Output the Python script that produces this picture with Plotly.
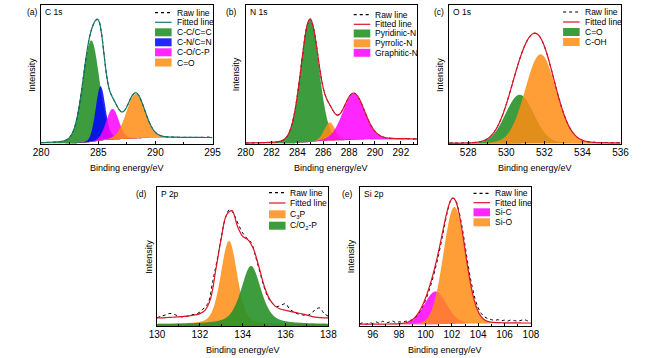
import numpy as np
import plotly.graph_objects as go

# ---------------- data ----------------
RAW_STEP = 0.25  # spacing of the sampled raw spectra (eV)

# (a) C 1s
A_range = [280, 295]
A_labels = ["C-C/C=C", "C-N/C=N", "C-O/C-P", "C=O"]
A_center = [284.38, 285.2, 286.25, 288.27]
A_height = [0.73, 0.39, 0.22, 0.32]
A_fwhm = [1.7, 1.0, 1.3, 1.9]
A_eta = [0.15, 0.1, 0.1, 0.1]
A_bg = [0.005, 0.045]
A_raw = [0.010, 0.011, 0.011, 0.012, 0.013, 0.014, 0.016, 0.018, 0.022, 0.031,
         0.048, 0.081, 0.140, 0.233, 0.361, 0.512, 0.658, 0.773, 0.845, 0.888,
         0.894, 0.815, 0.649, 0.484, 0.384, 0.335, 0.296, 0.257, 0.233, 0.237,
         0.268, 0.313, 0.352, 0.368, 0.355, 0.315, 0.260, 0.202, 0.150, 0.111,
         0.084, 0.068, 0.059, 0.054, 0.052, 0.050, 0.050, 0.049, 0.049, 0.048,
         0.048, 0.048, 0.048, 0.047, 0.048, 0.047, 0.049, 0.048, 0.050, 0.049, 0.052]

# (b) N 1s
B_range = [280, 293.25]
B_labels = ["Pyridinic-N", "Pyrrolic-N", "Graphitic-N"]
B_center = [284.97, 286.5, 288.35]
B_height = [0.88, 0.13, 0.33]
B_fwhm = [1.65, 1.0, 2.0]
B_eta = [0.1, 0.1, 0.1]
B_bg = [0.005, 0.035]
B_raw = [0.008, 0.008, 0.009, 0.009, 0.009, 0.010, 0.011, 0.011, 0.012, 0.014,
         0.017, 0.022, 0.035, 0.062, 0.116, 0.210, 0.350, 0.528, 0.712, 0.852,
         0.899, 0.835, 0.692, 0.530, 0.403, 0.328, 0.283, 0.241, 0.211, 0.213,
         0.246, 0.295, 0.339, 0.364, 0.361, 0.331, 0.282, 0.225, 0.170, 0.125,
         0.091, 0.069, 0.055, 0.047, 0.043, 0.041, 0.040, 0.039, 0.039, 0.038,
         0.038, 0.038, 0.037, 0.037]

# (c) O 1s
C_range = [527, 536]
C_labels = ["C=O", "C-OH"]
C_center = [530.7, 531.8]
C_height = [0.35, 0.64]
C_fwhm = [1.75, 1.9]
C_eta = [0.05, 0.05]
C_bg = [0.004, 0.006]
C_raw = [0.006, 0.008, 0.006, 0.009, 0.008, 0.011, 0.013, 0.021, 0.037, 0.066,
         0.116, 0.189, 0.286, 0.400, 0.519, 0.629, 0.717, 0.776, 0.797, 0.774,
         0.703, 0.594, 0.465, 0.336, 0.224, 0.139, 0.081, 0.046, 0.027, 0.017,
         0.013, 0.012, 0.010, 0.011, 0.009, 0.010, 0.008]

# (d) P 2p
D_range = [130, 138]
D_labels = ["C<sub>3</sub>P", "C/O<sub>2</sub>-P"]
D_center = [133.36, 134.39]
D_height = [0.60, 0.42]
D_fwhm = [0.9, 1.1]
D_eta = [0.3, 0.5]
D_floor = 0.012
D_fit_x = [130.0, 130.25, 130.5, 130.75, 131.0, 131.25, 131.5, 131.75, 132.0, 132.25,
           132.5, 132.75, 133.0, 133.25, 133.5, 133.75, 134.0, 134.25, 134.5, 134.75,
           135.0, 135.25, 135.5, 135.75, 136.0, 136.25, 136.5, 136.75, 137.0, 137.25,
           137.5, 137.75, 138.0]
D_fit_y = [0.058, 0.059, 0.061, 0.063, 0.066, 0.069, 0.073, 0.079, 0.089, 0.115,
           0.197, 0.41, 0.63, 0.80, 0.83, 0.72, 0.645, 0.62, 0.555, 0.43,
           0.29, 0.195, 0.145, 0.122, 0.113, 0.104, 0.096, 0.088, 0.078, 0.068,
           0.062, 0.059, 0.058]
D_raw_x = [130.0, 130.2, 130.4, 130.6, 130.8, 131.0, 131.2, 131.4, 131.6, 131.8,
           132.0, 132.2, 132.4, 132.6, 132.8, 133.0, 133.2, 133.4, 133.6, 133.8,
           134.0, 134.2, 134.4, 134.6, 134.8, 135.0, 135.2, 135.4, 135.6, 135.8,
           136.0, 136.2, 136.4, 136.6, 136.8, 137.0, 137.2, 137.4, 137.6, 137.8, 138.0]
D_raw_y = [0.06, 0.07, 0.08, 0.09, 0.085, 0.07, 0.065, 0.07, 0.08, 0.085,
           0.10, 0.13, 0.17, 0.32, 0.47, 0.64, 0.78, 0.84, 0.80, 0.73,
           0.67, 0.63, 0.60, 0.50, 0.39, 0.28, 0.20, 0.16, 0.14, 0.15,
           0.16, 0.12, 0.10, 0.085, 0.08, 0.075, 0.09, 0.12, 0.13, 0.09, 0.07]

# (e) Si 2p
E_range = [95, 108]
E_labels = ["Si-C", "Si-O"]
E_center = [100.76, 102.19]
E_height = [0.235, 0.84]
E_fwhm = [2.0, 1.95]
E_eta = [0.05, 0.05]
E_bg = [0.012, 0.02]
E_raw = [0.015, 0.022, 0.012, 0.026, 0.018, 0.030, 0.020, 0.034, 0.022, 0.028,
         0.036, 0.024, 0.030, 0.027, 0.034, 0.038, 0.045, 0.062, 0.092, 0.132,
         0.185, 0.250, 0.325, 0.415, 0.515, 0.630, 0.750, 0.855, 0.918, 0.910,
         0.840, 0.725, 0.580, 0.430, 0.300, 0.200, 0.130, 0.088, 0.065, 0.052,
         0.046, 0.040, 0.045, 0.038, 0.042, 0.036, 0.044, 0.039, 0.035, 0.041,
         0.046, 0.037, 0.042]

# ---------------- styling ----------------
GREEN = "rgba(40,145,40,0.9)"
BLUE = "rgba(0,0,255,0.85)"
MAGENTA = "rgba(255,0,255,0.85)"
ORANGE = "rgba(255,140,20,0.85)"
TEAL = "rgb(20,120,105)"
RED = "rgb(220,20,40)"
FONT = "Liberation Sans, Arial, sans-serif"
W, H = 650, 358


def pv(x, c, h, w, eta):
    s = w / 2.3548
    g = np.exp(-(x - c) ** 2 / (2 * s * s))
    lo = 1.0 / (1.0 + ((x - c) / (w / 2)) ** 2)
    return h * ((1 - eta) * g + eta * lo)


def shirley(x, total, bl, br):
    cum = np.concatenate([[0.0], np.cumsum((total[1:] + total[:-1]) / 2 * np.diff(x))])
    cum = cum / cum[-1]
    return bl + (br - bl) * cum


fig = go.Figure()
shapes = []
annotations = []


def P(px, py):
    return px / W, 1 - py / H


def text(px, py, s, size=8.5, xanchor="center", angle=0):
    ax, ay = P(px, py)
    annotations.append(dict(x=ax, y=ay, xref="paper", yref="paper", text=s, showarrow=False,
                            xanchor=xanchor, yanchor="middle", textangle=angle,
                            font=dict(size=size, family=FONT, color="black")))


panels = [
    dict(key="a", rng=A_range, labels=A_labels, c=A_center, h=A_height, w=A_fwhm, eta=A_eta, bg=A_bg, raw=A_raw,
         colors=[GREEN, BLUE, MAGENTA, ORANGE], fitc=TEAL, box=(34, 210, 5, 144), dtick=5, minor=2.5, tick0=280,
         title="C 1s", letter="(a)", letx=25, legx=151, legy=[12.7, 22.3, 32.3, 42.3, 52.3, 62.5]),
    dict(key="b", rng=B_range, labels=B_labels, c=B_center, h=B_height, w=B_fwhm, eta=B_eta, bg=B_bg, raw=B_raw,
         colors=[GREEN, ORANGE, MAGENTA], fitc=RED, box=(244, 420, 5, 144), dtick=2, minor=1, tick0=280,
         title="N 1s", letter="(b)", letx=229, legx=355, legy=[14.7, 24.3, 33.5, 43.3, 52.8]),
    dict(key="c", rng=C_range, labels=C_labels, c=C_center, h=C_height, w=C_fwhm, eta=C_eta, bg=C_bg, raw=C_raw,
         colors=[GREEN, ORANGE], fitc=RED, box=(453, 629, 5, 144), dtick=2, minor=1, tick0=528,
         title="O 1s", letter="(c)", letx=443, legx=570, legy=[12, 22, 32, 42]),
    dict(key="d", rng=D_range, labels=D_labels, c=D_center, h=D_height, w=D_fwhm, eta=D_eta, bg=None, raw=None,
         colors=[ORANGE, GREEN], fitc=RED, box=(153, 329, 187, 326), dtick=2, minor=1, tick0=130,
         title="P 2p", letter="(d)", letx=137, legx=268, legy=[192.7, 203, 214.3, 225.7]),
    dict(key="e", rng=E_range, labels=E_labels, c=E_center, h=E_height, w=E_fwhm, eta=E_eta, bg=E_bg, raw=E_raw,
         colors=[MAGENTA, ORANGE], fitc=RED, box=(361, 537, 187, 326), dtick=2, minor=1, tick0=96,
         title="Si 2p", letter="(e)", letx=349, legx=478, legy=[193.3, 202.7, 212.3, 222.3]),
]

for i, p in enumerate(panels):
    n = i + 1
    xa = "x" if n == 1 else f"x{n}"
    ya = "y" if n == 1 else f"y{n}"
    x = np.linspace(p["rng"][0], p["rng"][1], 700)
    comps = [pv(x, c, h, w, e) for c, h, w, e in zip(p["c"], p["h"], p["w"], p["eta"])]
    total = np.sum(comps, axis=0)
    if p["bg"] is not None:
        base = shirley(x, total, p["bg"][0], p["bg"][1])
        fit_x, fit_y = x, base + total
        floor = base
    else:
        base = np.full_like(x, D_floor)
        fit_x, fit_y = np.array(D_fit_x), np.array(D_fit_y)
        floor = base

    if p["raw"] is None:
        rx, ry = D_raw_x, D_raw_y
    else:
        ry = p["raw"]
        rx = [p["rng"][0] + RAW_STEP * k for k in range(len(ry))]

    for comp, col, lab in zip(comps, p["colors"], p["labels"]):
        lower = np.zeros_like(x) if p["key"] == "d" else floor
        fig.add_trace(go.Scatter(
            x=np.concatenate([x, x[::-1]]), y=np.concatenate([floor + comp, lower[::-1]]),
            fill="toself", fillcolor=col, mode="none", xaxis=xa, yaxis=ya,
            showlegend=False, hoverinfo="skip"))
    fig.add_trace(go.Scatter(x=rx, y=ry, mode="lines", line=dict(color="black", width=1, dash="dot", shape="spline"),
                             xaxis=xa, yaxis=ya, showlegend=False))
    fig.add_trace(go.Scatter(x=fit_x, y=fit_y, mode="lines",
                             line=dict(color=p["fitc"], width=1.2, shape="spline"),
                             xaxis=xa, yaxis=ya, showlegend=False))

    x0, x1, y0, y1 = p["box"]
    fig.layout[f"xaxis{'' if n == 1 else n}"] = dict(
        domain=[x0 / W, x1 / W], anchor=ya, range=p["rng"], dtick=p["dtick"], tick0=p["tick0"],
        showline=True, linecolor="black", linewidth=1, mirror=True, ticks="inside", ticklen=3,
        tickwidth=1, tickcolor="black", tickfont=dict(size=10, color="black", family=FONT),
        ticklabelstandoff=-1,
        minor=dict(ticks="inside", ticklen=2, dtick=p["minor"], tickcolor="black"),
        showgrid=False, zeroline=False, fixedrange=True)
    fig.layout[f"yaxis{'' if n == 1 else n}"] = dict(
        domain=[1 - y1 / H, 1 - y0 / H], anchor=xa, range=[0, 1], showticklabels=False, ticks="",
        showline=True, linecolor="black", linewidth=1, mirror=True,
        showgrid=False, zeroline=False, fixedrange=True)

    text((x0 + x1) / 2, y1 + 24, "Binding energy/eV", size=9)
    text(x0 - 9, (y0 + y1) / 2, "Intensity", size=9, angle=-90)
    text(p["letx"], y0 + 7, p["letter"])
    text(x0 + 2, y0 + 7, p["title"], xanchor="left")

    lx = p["legx"]
    items = [("line", "black", "Raw line"), ("line", p["fitc"], "Fitted line")] + \
            [("box", c, l) for c, l in zip(p["colors"], p["labels"])]
    for (kind, col, lab), ly in zip(items, p["legy"]):
        if kind == "line":
            a0, b0 = P(lx, ly)
            a1, b1 = P(lx + 17, ly)
            shapes.append(dict(type="line", xref="paper", yref="paper", x0=a0, y0=b0, x1=a1, y1=b1,
                               line=dict(color=col, width=1.2, dash="dot" if lab == "Raw line" else "solid")))
        else:
            a0, b0 = P(lx, ly + 4)
            a1, b1 = P(lx + 17, ly - 4)
            shapes.append(dict(type="rect", xref="paper", yref="paper", x0=a0, y0=b0, x1=a1, y1=b1,
                               fillcolor=col, line=dict(width=0)))
        text(lx + 20, ly, lab, xanchor="left")

fig.update_layout(width=W, height=H, margin=dict(l=0, r=0, t=0, b=0), paper_bgcolor="white",
                  plot_bgcolor="white", showlegend=False, shapes=shapes, annotations=annotations,
                  font=dict(family=FONT, color="black"))
fig.write_html("out.html", config={"displayModeBar": False},
               post_script="document.body.style.margin='0px';document.body.style.overflow='hidden';")
